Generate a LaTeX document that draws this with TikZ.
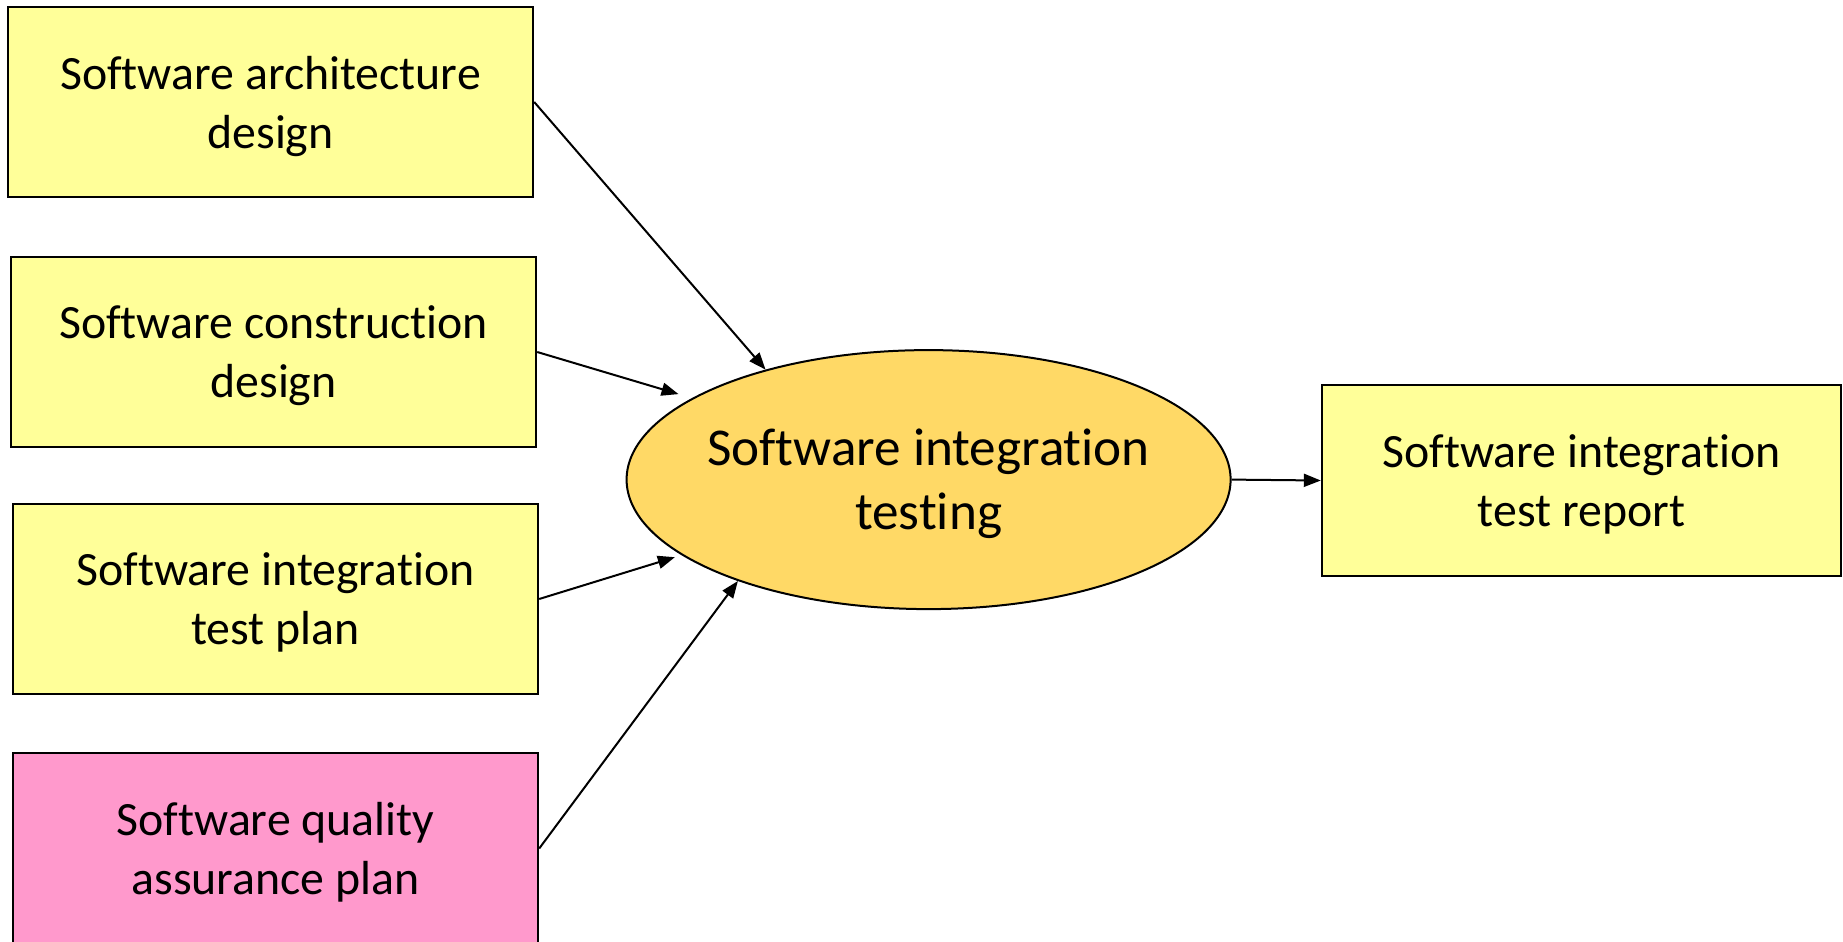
\documentclass[tikz,border=0pt]{standalone}
\usepackage{fontspec}
\setmainfont{Carlito}[Ligatures=NoCommon]
\usetikzlibrary{shapes.geometric,arrows.meta}

\definecolor{docyellow}{HTML}{FFFF99}
\definecolor{docpink}{HTML}{FF99CC}
\definecolor{procorange}{HTML}{FFD966}

\tikzset{
  docbox/.style={draw=black, line width=1.2pt, fill=docyellow,
    minimum width=262.5pt, minimum height=95pt, inner sep=0pt,
    text depth=0pt, align=center, font=\fontsize{23.9}{29.5}\selectfont},
  process/.style={ellipse, draw=black, line width=1pt, fill=procorange,
    minimum width=302pt, minimum height=129.5pt, inner xsep=-12pt,
    inner ysep=0pt, text depth=0pt, align=center,
    font=\fontsize{26.6}{32}\selectfont},
  flow/.style={line width=1pt, -{Triangle[length=8.5pt,width=6.5pt]}}
}

\begin{document}
\begin{tikzpicture}[x=0.5pt, y=-0.5pt]
  \useasboundingbox (0,0) rectangle (1843,942);

  % input documents
  \node[docbox] (arch) at (270.5,102) {Software architecture\\design};
  \node[docbox] (cons) at (273.5,352) {Software construction\\design};
  \node[docbox] (plan) at (275.5,599) {Software integration\\test plan};
  \node[docbox, fill=docpink, minimum height=95.5pt] (sqap) at (275.5,848.5)
    {Software quality\\assurance plan};

  % activity
  \node[process] (sit) at (928.6,479.6) {Software integration\\testing};

  % output document
  \node[docbox, minimum width=259.5pt, minimum height=95.5pt] (report)
    at (1581.5,480.5) {Software integration\\test report};

  % flows
  \draw[flow] (arch.east) -- (sit.146);
  \draw[flow, shorten >=7pt] (cons.east) -- (sit.161.75);
  \draw[flow, shorten >=3.5pt] (plan.east) -- (sit.197.1);
  \draw[flow] (sqap.east) -- (sit.208);
  \draw[flow] (sit.east) -- (report.west);
\end{tikzpicture}
\end{document}
